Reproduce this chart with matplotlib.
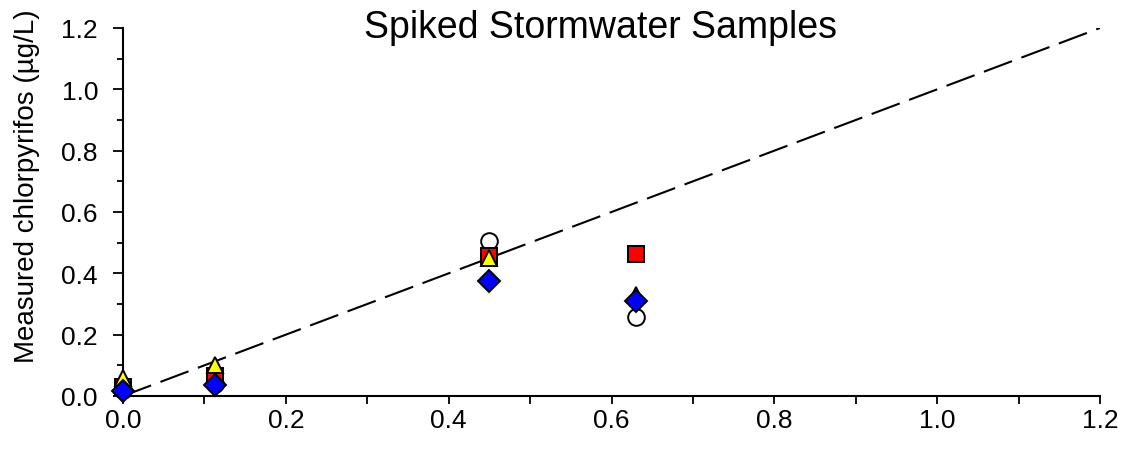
import matplotlib
matplotlib.use("Agg")
import matplotlib.pyplot as plt
from matplotlib.ticker import MultipleLocator

plt.rcParams['font.family'] = ['Liberation Sans', 'DejaVu Sans']

x = [0.0, 0.113, 0.45, 0.63]
circles = [0.02, 0.04, 0.505, 0.258]
squares = [0.03, 0.065, 0.456, 0.463]
triangles = [0.06, 0.10, 0.45, 0.33]
diamonds = [0.015, 0.035, 0.375, 0.31]
line_x = [0.0, 1.2]
line_y = [0.0, 1.2]

W, H = 1125, 452
fig = plt.figure(figsize=(11.25, 4.52), dpi=100)
ax = fig.add_axes([123/W, 1-397/H, (1100-123)/W, (397-29)/H])

ax.plot(line_x, line_y, color='black', lw=1.5, dashes=(14.4, 4.8), zorder=1)

ax.plot(x, circles, 'o', ms=12, mfc='white', mec='black', mew=1.4, ls='none', zorder=3, clip_on=False)
ax.plot(x, squares, 's', ms=11, mfc='#ff0000', mec='black', mew=1.4, ls='none', zorder=4, clip_on=False)
ax.plot(x, triangles, '^', ms=12, mfc='#ffff00', mec='black', mew=1.4, ls='none', zorder=5, clip_on=False)
ax.plot(x, diamonds, 'D', ms=11.5, mfc='#0000ff', mec='black', mew=1.4, ls='none', zorder=6, clip_on=False)

ax.set_xlim(0, 1.2)
ax.set_ylim(0, 1.2)
ax.xaxis.set_major_locator(MultipleLocator(0.2))
ax.xaxis.set_minor_locator(MultipleLocator(0.1))
ax.yaxis.set_major_locator(MultipleLocator(0.2))
ax.yaxis.set_minor_locator(MultipleLocator(0.1))
ax.xaxis.set_major_formatter(plt.FormatStrFormatter('%.1f'))
ax.yaxis.set_major_formatter(plt.FormatStrFormatter('%.1f'))

for s in ['top', 'right']:
    ax.spines[s].set_visible(False)
for s in ['left', 'bottom']:
    ax.spines[s].set_linewidth(1.5)

ax.tick_params(axis='both', which='major', direction='out', width=1.3, labelsize=19)
ax.tick_params(axis='y', which='major', length=7, pad=11)
ax.tick_params(axis='y', which='minor', length=4, width=1.3)
ax.tick_params(axis='x', which='major', length=6, pad=3)
ax.tick_params(axis='x', which='minor', length=6, width=1.3)

fig.text(27/W, 1-186/H, 'Measured chlorpyrifos (µg/L)', fontsize=20,
         rotation=90, ha='center', va='center')
fig.text(601/W, 1-38/H, 'Spiked Stormwater Samples', fontsize=27,
         ha='center', va='baseline')

fig.savefig('out.png', dpi=100)
